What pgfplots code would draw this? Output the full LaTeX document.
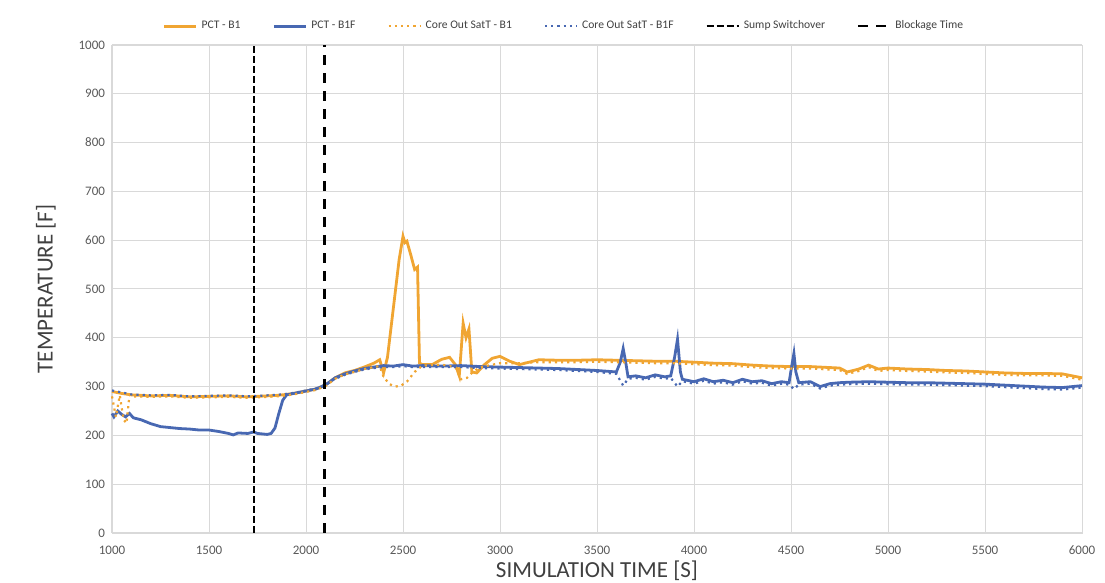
\documentclass[border=0pt]{standalone}
\usepackage{fontspec}
\setmainfont{Carlito}
\usepackage{pgfplots}
\pgfplotsset{compat=1.18}
\definecolor{pctorange}{RGB}{240,165,50}
\definecolor{pctblue}{RGB}{72,104,178}
\definecolor{gridgray}{RGB}{217,217,217}
\definecolor{ticktext}{RGB}{89,89,89}
\definecolor{labeltext}{RGB}{64,64,64}
\begin{document}
\begin{tikzpicture}
  \begin{axis}[
    scale only axis,
    width=485pt, height=244pt,
    xmin=1000, xmax=6000, ymin=0, ymax=1000,
    xtick distance=500, ytick distance=100,
    grid=major,
    grid style={gridgray, line width=0.5pt},
    axis line style={gridgray},
    major tick length=0pt,
    /pgf/number format/assume math mode=true,
    /pgf/number format/1000 sep={},
    ticklabel style={font=\fontsize{6.5}{8}\selectfont, text=ticktext},
    xticklabel style={yshift=-3pt},
    xlabel={SIMULATION TIME [S]},
    ylabel={TEMPERATURE [F]},
    label style={font=\fontsize{11.5}{13}\selectfont, text=labeltext},
    xlabel style={yshift=4pt},
    ylabel style={yshift=4.5pt},
    legend columns=-1,
    legend style={draw=none, fill=none, at={(0.467,1.01)}, anchor=south,
      font=\fontsize{5.8}{7}\selectfont, text=labeltext,
      /tikz/every even column/.append style={column sep=14pt}},
    legend image code/.code={\draw[#1] (0pt,0pt) -- (16pt,0pt);},
    clip=false,
  ]
    % PCT - B1
    \addplot[pctorange, line width=1.4pt] coordinates {
      (1000,290) (1050,286) (1100,283) (1200,281) (1300,282) (1400,279) (1500,280)
      (1600,281) (1700,279) (1800,281) (1850,282) (1900,284) (1950,287) (2000,291)
      (2050,295) (2100,303) (2150,318) (2200,328) (2250,333) (2300,340) (2350,348)
      (2380,355) (2400,328) (2420,360) (2450,460) (2480,560) (2500,608) (2510,595)
      (2520,598) (2540,570) (2560,540) (2575,545) (2585,348) (2600,345) (2650,345)
      (2700,356) (2740,360) (2770,345) (2790,322) (2810,430) (2825,400) (2840,418)
      (2855,330) (2880,328) (2920,345) (2960,358) (3000,362) (3050,352) (3100,345)
      (3150,350) (3200,355) (3300,354) (3400,354) (3500,355) (3600,354) (3700,353)
      (3800,352) (3900,352) (4000,350) (4100,348) (4200,347) (4300,344) (4400,342)
      (4500,341) (4600,341) (4700,339) (4750,338) (4790,330) (4850,336) (4900,344)
      (4950,336) (5000,338) (5100,336) (5200,335) (5300,333) (5400,332) (5500,330)
      (5600,328) (5700,327) (5800,327) (5900,326) (5950,322) (6000,318)
    };
    % PCT - B1F
    \addplot[pctblue, line width=1.4pt] coordinates {
      (1000,245) (1010,238) (1030,250) (1050,243) (1070,238) (1090,245) (1110,236)
      (1150,232) (1200,224) (1250,218) (1300,216) (1350,214) (1400,213) (1450,211)
      (1500,211) (1550,208) (1600,204) (1625,201) (1650,205) (1700,204) (1730,207)
      (1750,204) (1800,202) (1820,204) (1840,215) (1860,245) (1880,272) (1900,283)
      (1950,287) (2000,291) (2050,295) (2100,303) (2150,318) (2200,326) (2250,332)
      (2300,337) (2350,340) (2400,343) (2450,342) (2500,345) (2550,342) (2600,343)
      (2700,342) (2800,343) (2900,341) (3000,340) (3100,339) (3200,338) (3300,337)
      (3400,335) (3500,333) (3600,330) (3620,350) (3635,378) (3650,345) (3660,320)
      (3700,322) (3750,318) (3800,324) (3850,320) (3880,322) (3900,360) (3915,397)
      (3930,330) (3940,315) (4000,310) (4050,316) (4100,310) (4150,313) (4200,308)
      (4250,315) (4300,310) (4350,312) (4400,306) (4450,310) (4490,308) (4505,345)
      (4515,368) (4525,330) (4540,308) (4600,310) (4650,300) (4700,306) (4750,308)
      (4800,309) (4900,310) (5000,309) (5100,308) (5200,308) (5300,307) (5400,306)
      (5500,305) (5600,303) (5700,301) (5800,299) (5900,298) (6000,302)
    };
    % Core Out SatT - B1
    \addplot[pctorange, line width=1.1pt, dotted] coordinates {
      (1000,280) (1020,238) (1040,282) (1060,232) (1075,225) (1090,283) (1100,280)
      (1200,279) (1300,280) (1400,277) (1500,278) (1600,279) (1700,277) (1800,279)
      (1850,280) (1900,282) (1950,285) (2000,289) (2050,293) (2100,301) (2150,316)
      (2200,325) (2250,330) (2300,336) (2350,340) (2380,342) (2400,320) (2430,305)
      (2460,300) (2490,302) (2520,310) (2560,330) (2600,343) (2700,345) (2770,340)
      (2800,315) (2830,318) (2860,330) (2900,340) (3000,348) (3100,348) (3200,350)
      (3300,350) (3400,350) (3500,351) (3600,350) (3700,349) (3800,348) (3900,348)
      (4000,346) (4100,344) (4200,343) (4300,340) (4400,338) (4500,337) (4600,337)
      (4700,335) (4750,334) (4790,326) (4850,332) (4900,340) (4950,332) (5000,334)
      (5100,332) (5200,331) (5300,329) (5400,328) (5500,326) (5600,324) (5700,323)
      (5800,323) (5900,322) (5950,318) (6000,314)
    };
    % Core Out SatT - B1F
    \addplot[pctblue, line width=1.1pt, dotted] coordinates {
      (1000,292) (1050,288) (1100,284) (1200,282) (1300,283) (1400,280) (1500,281)
      (1600,282) (1700,280) (1800,282) (1850,283) (1900,285) (1950,288) (2000,292)
      (2050,296) (2100,304) (2150,316) (2200,324) (2250,330) (2300,335) (2350,338)
      (2400,340) (2450,340) (2500,342) (2550,340) (2600,340) (2700,340) (2800,340)
      (2900,338) (3000,337) (3100,336) (3200,335) (3300,334) (3400,332) (3500,330)
      (3600,326) (3635,302) (3660,316) (3700,318) (3750,314) (3800,320) (3850,316)
      (3880,318) (3915,300) (3940,311) (4000,306) (4050,312) (4100,306) (4150,309)
      (4200,304) (4250,311) (4300,306) (4350,308) (4400,302) (4450,306) (4490,304)
      (4515,295) (4540,304) (4600,306) (4650,296) (4700,302) (4750,304) (4800,305)
      (4900,306) (5000,305) (5100,304) (5200,304) (5300,303) (5400,302) (5500,301)
      (5600,299) (5700,297) (5800,295) (5900,294) (6000,298)
    };
    % Sump Switchover
    \addplot[black, line width=1.1pt, dash pattern=on 3.5pt off 1.5pt] coordinates {(1730,0) (1730,1000)};
    % Blockage Time
    \addplot[black, line width=1.1pt, dash pattern=on 5pt off 4pt] coordinates {(2095,0) (2095,1000)};
    \legend{PCT - B1, PCT - B1F, Core Out SatT - B1, Core Out SatT - B1F, Sump Switchover, Blockage Time}
    \coordinate (sw) at (rel axis cs:0,0);
    \coordinate (ne) at (rel axis cs:1,1);
  \end{axis}
  \pgfresetboundingbox
  \path ([xshift=-56pt,yshift=-24.5pt]sw) rectangle ([xshift=11.5pt,yshift=22.5pt]ne);
\end{tikzpicture}
\end{document}
